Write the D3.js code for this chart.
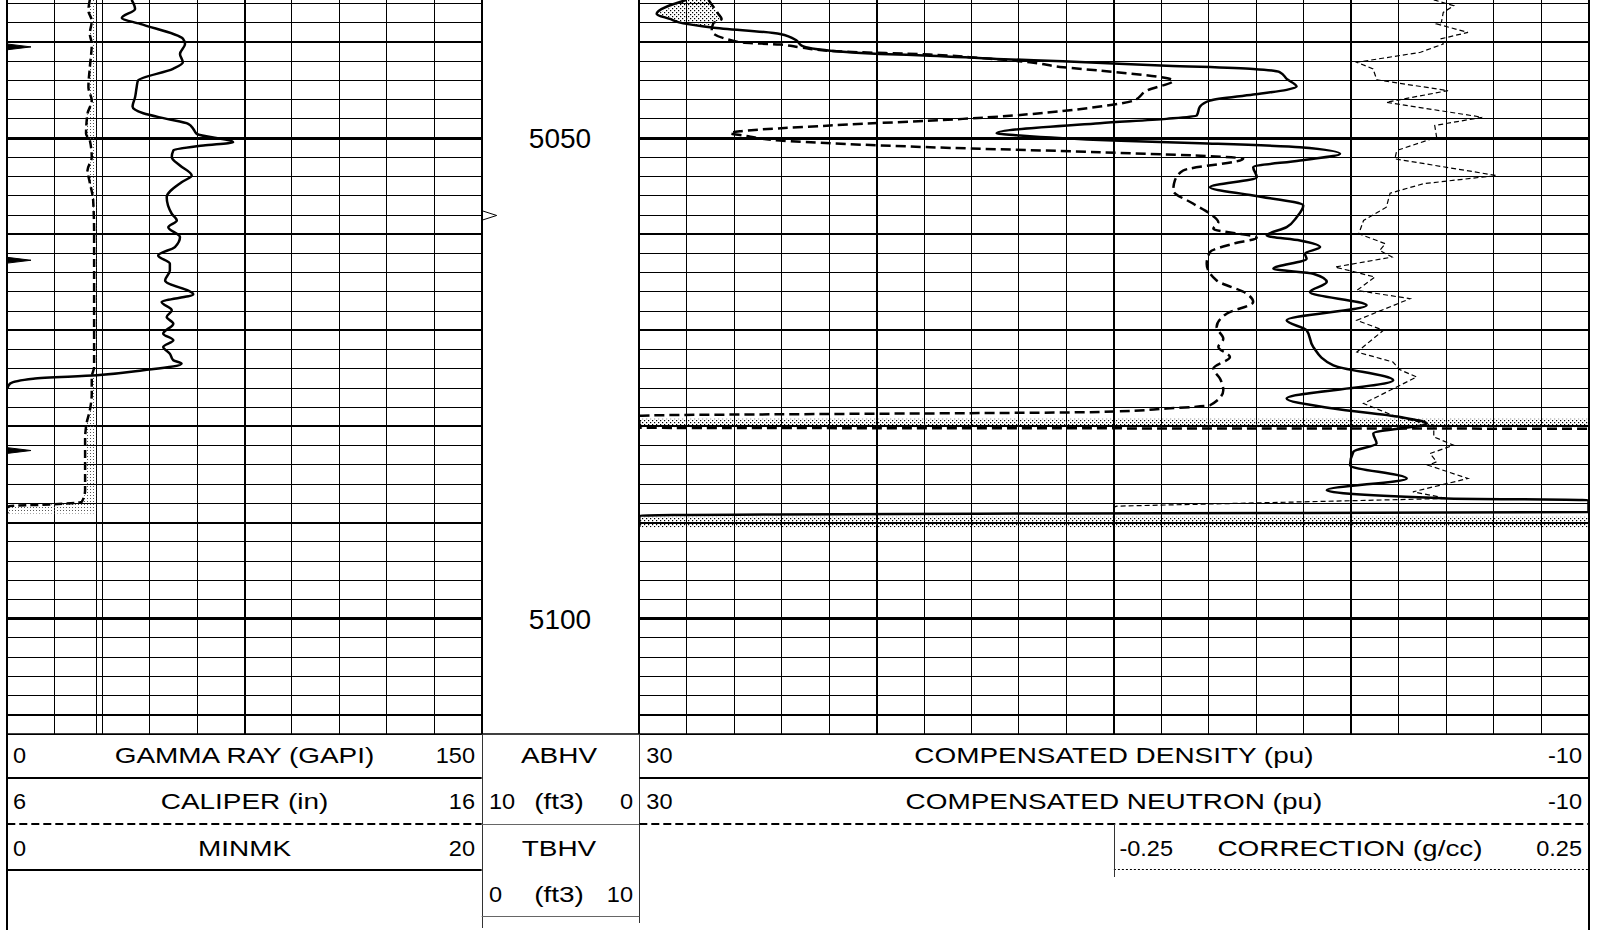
<!DOCTYPE html>
<html><head><meta charset="utf-8">
<script src="https://cdn.jsdelivr.net/npm/d3@7"></script>
<style>
body{margin:0;background:#fff}
svg{display:block}
text{font-family:"Liberation Sans",Arial,sans-serif;fill:#000}
</style>
</head><body>
<svg id="chart" width="1601" height="930"></svg>
<script>
// ---------------- DATA ----------------
const gammaScale = [0, 150];
const caliperScale = [6, 16];
const minmkScale = [0, 20];
const porosityScale = [30, -10];
const correctionScale = [-0.25, 0.25];
const bitSize = 7.875;
const depthLabels = [5050, 5100];
const volumeTicks = [5058.04];
const gasShadeRange = [5035.6, 5038.6];
const stippleBands = [[5079.2, 5080.1], [5089.4, 5090.5]];

// [depth ft, value]
const gammaRay = [[5035.6,39.3],[5036.55,40.4],[5037.49,36.2],[5038.11,42.0],[5039.67,55.6],[5040.19,56.2],[5041.23,54.6],[5042.10,55.5],[5042.79,52.4],[5044.01,41.3],[5044.70,40.9],[5045.74,40.4],[5046.71,39.6],[5047.41,43.0],[5047.99,50.4],[5048.51,57.2],[5049.03,58.8],[5049.55,59.9],[5050.42,71.4],[5050.76,62.0],[5051.28,52.5],[5051.98,52.0],[5052.84,54.6],[5053.88,58.3],[5054.58,55.1],[5056.13,50.4],[5057.86,52.0],[5058.56,53.6],[5059.26,50.9],[5060.29,54.6],[5061.33,53.0],[5062.20,47.7],[5063.06,51.4],[5063.76,51.4],[5064.80,49.9],[5066.25,58.8],[5067.05,48.8],[5067.91,52.0],[5068.61,50.4],[5069.30,52.5],[5070.34,49.3],[5071.03,52.5],[5071.73,49.3],[5072.42,51.4],[5073.11,52.5],[5073.46,55.1],[5074.15,43.0],[5074.67,28.3],[5075.02,8.2],[5075.53,0.9],[5076.05,0]];

const caliper = [[5035.6,7.74],[5036.73,7.71],[5037.77,7.78],[5039.15,7.74],[5040.19,7.78],[5042.62,7.74],[5044.70,7.71],[5046.09,7.78],[5047.47,7.69],[5049.55,7.66],[5050.24,7.74],[5051.98,7.78],[5053.36,7.69],[5054.40,7.73],[5056.48,7.81],[5059.94,7.83],[5066.88,7.83],[5073.81,7.83],[5074.85,7.78],[5076.54,7.78],[5078.31,7.74],[5079.69,7.67],[5081.43,7.64],[5083.85,7.64],[5086.62,7.64],[5087.84,7.57],[5088.11,6.90],[5088.29,6.02],[5089.05,6.0]];

const minmk = [[5035.6,0],[5040.2,0],[5040.5,1.0],[5040.8,0],[5062.4,0],[5062.7,1.0],[5063.0,0],[5082.2,0],[5082.5,1.0],[5082.8,0],[5089.0,0]];

const densityPor = [[5035.6,28.0],[5037.07,29.27],[5037.59,28.71],[5038.05,28.15],[5038.47,26.95],[5039.15,24.07],[5039.85,23.37],[5040.37,23.16],[5040.89,21.96],[5041.23,19.86],[5041.41,17.75],[5041.75,14.94],[5042.0,12.15],[5042.45,7.78],[5042.79,4.13],[5043.14,3.0],[5043.83,2.72],[5044.63,2.30],[5044.97,2.72],[5045.46,4.13],[5046.09,5.95],[5046.71,6.37],[5047.64,6.51],[5047.99,7.78],[5048.44,10.59],[5049.48,14.94],[5049.72,13.96],[5050.24,10.03],[5050.52,6.37],[5050.94,2.16],[5051.63,0.47],[5052.32,2.16],[5053.02,4.13],[5054.06,3.98],[5055.10,5.95],[5055.96,4.13],[5057.0,2.02],[5058.22,2.30],[5059.26,2.72],[5060.12,3.56],[5060.64,2.16],[5061.33,1.31],[5062.02,1.95],[5062.54,1.88],[5063.58,3.28],[5064.1,1.60],[5064.97,1.03],[5066.01,1.74],[5067.39,-0.65],[5068.95,2.72],[5069.99,1.88],[5071.73,1.60],[5073.63,0.75],[5075.19,-1.77],[5077.09,2.72],[5078.13,0.75],[5079.01,-2.06],[5079.69,-3.18],[5080.73,-0.93],[5081.77,-1.07],[5082.64,-0.09],[5084.03,0.05],[5085.41,-2.34],[5086.63,1.03],[5087.49,-4.02],[5087.67,-11],[5088.91,-11],[5089.05,12.15],[5089.28,31],[5090.47,31]];

const neutronPor = [[5035.6,27.09],[5037.07,26.67],[5037.59,26.53],[5038.05,26.88],[5038.81,26.95],[5040.02,25.76],[5040.26,24.07],[5040.54,23.23],[5040.96,21.68],[5041.30,17.75],[5041.65,15.64],[5042.10,13.54],[5042.62,12.13],[5042.97,10.59],[5044.01,7.5],[5045.05,8.62],[5046.09,9.18],[5046.71,10.59],[5047.99,16.36],[5048.68,21.96],[5049.28,25.76],[5049.48,26.18],[5049.72,25.62],[5050.24,24.07],[5050.94,17.75],[5051.46,10.59],[5052.15,4.55],[5053.36,7.08],[5054.40,7.43],[5055.44,7.50],[5056.82,6.65],[5057.86,5.95],[5058.74,5.60],[5059.42,5.81],[5060.36,3.98],[5060.98,4.97],[5061.85,5.95],[5063.06,6.09],[5064.80,5.67],[5066.18,4.40],[5067.05,4.13],[5068.26,5.25],[5069.65,5.67],[5070.86,5.39],[5071.73,5.60],[5072.77,5.11],[5073.98,5.81],[5075.02,5.53],[5076.23,5.39],[5077.79,5.95],[5078.13,7.78],[5078.49,10.59],[5078.88,31],[5080.13,31],[5080.23,-11]];

const correction = [[5035.6,0.087],[5036.21,0.108],[5036.91,0.097],[5037.95,0.095],[5038.11,0.090],[5038.99,0.123],[5039.67,0.094],[5040.19,0.097],[5041.06,0.073],[5042.10,0.006],[5042.79,0.023],[5043.93,0.027],[5045.05,0.102],[5046.26,0.037],[5047.82,0.138],[5048.68,0.088],[5049.9,0.090],[5051.28,0.048],[5052.15,0.046],[5053.88,0.153],[5054.74,0.076],[5055.72,0.041],[5057.18,0.037],[5058.56,0.013],[5059.94,0.008],[5060.98,0.036],[5061.68,0.030],[5062.37,0.043],[5063.41,-0.017],[5064.45,0.025],[5065.84,0.006],[5066.70,0.062],[5068.95,0.006],[5069.99,0.034],[5072.25,0.006],[5073.29,0.044],[5074.08,0.051],[5074.85,0.069],[5077.61,0.013],[5079.01,0.048],[5079.87,0.087],[5081.08,0.087],[5081.95,0.108],[5082.81,0.083],[5083.68,0.090],[5084.03,0.081],[5085.41,0.123],[5086.80,0.065],[5087.49,0.101],[5088.29,-0.247],[5088.39,-0.26]];

const leftHeader = [
  {left: String(gammaScale[0]), title: "GAMMA RAY (GAPI)", right: String(gammaScale[1])},
  {left: String(caliperScale[0]), title: "CALIPER (in)", right: String(caliperScale[1])},
  {left: String(minmkScale[0]), title: "MINMK", right: String(minmkScale[1])}
];
const depthHeader = [
  {title: "ABHV"},
  {left: "10", title: "(ft3)", right: "0"},
  {title: "TBHV"},
  {left: "0", title: "(ft3)", right: "10"}
];
const rightHeader = [
  {left: String(porosityScale[0]), title: "COMPENSATED DENSITY (pu)", right: String(porosityScale[1])},
  {left: String(porosityScale[0]), title: "COMPENSATED NEUTRON (pu)", right: String(porosityScale[1])},
  {left: String(correctionScale[0]), title: "CORRECTION (g/cc)", right: String(correctionScale[1])}
];

// ---------------- LAYOUT ----------------
const svg = d3.select("#chart");
const TB = 734;                 // track bottom
const depthTop = 5035.62, pxPerFt = 9.61;
const L0 = 7.3, L1 = 481.7, R0 = 639.3, R1 = 1588.5;
const y = d3.scaleLinear().domain([depthTop, depthTop + TB / pxPerFt]).range([0, TB]);
const xGR = d3.scaleLinear().domain(gammaScale).range([L0, L1]).clamp(true);
const xCal = d3.scaleLinear().domain(caliperScale).range([L0, L1]).clamp(true);
const xMin = d3.scaleLinear().domain(minmkScale).range([L0, L1]).clamp(true);
const xPor = d3.scaleLinear().domain(porosityScale).range([R0, R1]).clamp(true);
const xCor = d3.scaleLinear().domain(correctionScale).range([xPor(10), R1]).clamp(true);

svg.append("rect").attr("width", 1601).attr("height", 930).attr("fill", "#fff");

const defs = svg.append("defs");
const p1 = defs.append("pattern").attr("id", "stip").attr("width", 4).attr("height", 4).attr("patternUnits", "userSpaceOnUse");
p1.append("rect").attr("x", 0).attr("y", 0).attr("width", 1.2).attr("height", 1.2).attr("fill", "#000");
p1.append("rect").attr("x", 2).attr("y", 2).attr("width", 1.2).attr("height", 1.2).attr("fill", "#000");
const p2 = defs.append("pattern").attr("id", "stip2").attr("width", 3).attr("height", 3).attr("patternUnits", "userSpaceOnUse");
p2.append("rect").attr("width", 1).attr("height", 1).attr("fill", "#555");
defs.append("clipPath").attr("id", "clipL").append("rect").attr("x", L0).attr("y", 0).attr("width", L1 - L0).attr("height", TB);
defs.append("clipPath").attr("id", "clipR").append("rect").attr("x", R0).attr("y", 0).attr("width", R1 - R0).attr("height", TB);

// ---------------- GRID ----------------
const grid = svg.append("g");
const depthLines = d3.range(5036, 5113, 2);
function hLine(x0, x1, d) {
  const w = d % 50 === 0 ? 3 : (d % 10 === 0 ? 2 : 1);
  let yy = y(d);
  yy = w === 2 ? Math.round(yy) : Math.round(yy - 0.5) + 0.5;
  grid.append("line").attr("x1", x0).attr("x2", x1).attr("y1", yy).attr("y2", yy)
    .attr("stroke", "#000").attr("stroke-width", w);
}
depthLines.forEach(d => { hLine(L0, L1, d); hLine(R0, R1, d); });

d3.range(gammaScale[0], gammaScale[1] + 1, 15).forEach((v, i) => {
  const w = (i === 0 || i === 10) ? 2 : (i === 5 ? 2 : 1);
  const xx = w === 2 ? Math.round(xGR(v)) : Math.round(xGR(v) - 0.5) + 0.5;
  grid.append("line").attr("x1", xx).attr("x2", xx).attr("y1", 0).attr("y2", TB).attr("stroke", "#000").attr("stroke-width", w);
});
d3.range(0, 21).forEach(i => {
  const v = porosityScale[0] - i * 2;
  const w = (i % 5 === 0) ? 2 : 1;
  const xx = w === 2 ? Math.round(xPor(v)) : Math.round(xPor(v) - 0.5) + 0.5;
  grid.append("line").attr("x1", xx).attr("x2", xx).attr("y1", 0).attr("y2", TB).attr("stroke", "#000").attr("stroke-width", w);
});
grid.append("line").attr("x1", L0).attr("x2", R1).attr("y1", TB).attr("y2", TB).attr("stroke", "#000").attr("stroke-width", 1.5);
grid.append("line").attr("x1", Math.round(xCal(bitSize)) + 0.5).attr("x2", Math.round(xCal(bitSize)) + 0.5)
  .attr("y1", 0).attr("y2", TB).attr("stroke", "#000").attr("stroke-width", 1);

// ---------------- LEFT TRACK ----------------
const gl = svg.append("g").attr("clip-path", "url(#clipL)");
gl.append("path").datum(caliper)
  .attr("d", d3.area().curve(d3.curveMonotoneY).y(d => y(d[0])).x0(d => xCal(d[1])).x1(xCal(bitSize)))
  .attr("fill", "url(#stip2)");
gl.append("path").datum(minmk)
  .attr("d", d3.area().y(d => y(d[0])).x0(xMin(0)).x1(d => xMin(d[1])))
  .attr("fill", "#000").attr("stroke", "#000").attr("stroke-width", 1);
gl.append("path").datum(caliper)
  .attr("d", d3.line().curve(d3.curveMonotoneY).x(d => xCal(d[1])).y(d => y(d[0])))
  .attr("fill", "none").attr("stroke", "#000").attr("stroke-width", 2.5).attr("stroke-dasharray", "8,4");
gl.append("path").datum(gammaRay)
  .attr("d", d3.line().curve(d3.curveMonotoneY).x(d => xGR(d[1])).y(d => y(d[0])))
  .attr("fill", "none").attr("stroke", "#000").attr("stroke-width", 2.5);

// ---------------- RIGHT TRACK ----------------
function interp(series, d) {
  const i = d3.bisector(p => p[0]).left(series, d);
  if (i <= 0) return series[0][1];
  if (i >= series.length) return series[series.length - 1][1];
  const a = series[i - 1], b = series[i];
  return a[1] + (b[1] - a[1]) * (d - a[0]) / (b[0] - a[0]);
}
const gr = svg.append("g").attr("clip-path", "url(#clipR)");
const gasSamples = d3.range(gasShadeRange[0], gasShadeRange[1] + 0.001, 0.05);
gr.append("path").datum(gasSamples)
  .attr("d", d3.area().y(d => y(d))
    .x0(d => xPor(interp(densityPor, d)))
    .x1(d => Math.max(xPor(interp(densityPor, d)), xPor(interp(neutronPor, d)))))
  .attr("fill", "url(#stip)");
stippleBands.forEach(b => {
  gr.append("rect").attr("x", xPor(porosityScale[0])).attr("width", xPor(porosityScale[1]) - xPor(porosityScale[0]))
    .attr("y", y(b[0])).attr("height", y(b[1]) - y(b[0])).attr("fill", "url(#stip)");
});
gr.append("path").datum(correction)
  .attr("d", d3.line().x(d => xCor(d[1])).y(d => y(d[0])))
  .attr("fill", "none").attr("stroke", "#000").attr("stroke-width", 1.2).attr("stroke-dasharray", "5,3");
gr.append("path").datum(neutronPor)
  .attr("d", d3.line().curve(d3.curveMonotoneY).x(d => xPor(d[1])).y(d => y(d[0])))
  .attr("fill", "none").attr("stroke", "#000").attr("stroke-width", 2.5).attr("stroke-dasharray", "10,5");
gr.append("path").datum(densityPor)
  .attr("d", d3.line().curve(d3.curveMonotoneY).x(d => xPor(d[1])).y(d => y(d[0])))
  .attr("fill", "none").attr("stroke", "#000").attr("stroke-width", 2.5);

// ---------------- DEPTH TRACK ----------------
const gd = svg.append("g");
depthLabels.forEach(d => {
  gd.append("text").attr("x", 560).attr("y", y(d) + 10).attr("text-anchor", "middle")
    .attr("font-size", 28).text(d);
});
volumeTicks.forEach(d => {
  const yy = y(d);
  gd.append("path").attr("d", `M${L1 + 1},${yy - 4.5}L${L1 + 15},${yy}L${L1 + 1},${yy + 4.5}`)
    .attr("fill", "#fff").attr("stroke", "#000").attr("stroke-width", 1);
});

// ---------------- BORDERS ----------------
const gb = svg.append("g");
[[L0, 0, 930], [L1, 0, TB], [R0, 0, TB], [R1, 0, 930]].forEach(([x, a, b]) => {
  gb.append("line").attr("x1", Math.round(x)).attr("x2", Math.round(x)).attr("y1", a).attr("y2", b)
    .attr("stroke", "#000").attr("stroke-width", 2);
});
[[L1, 928], [R0, 923]].forEach(([x, b]) => {
  gb.append("line").attr("x1", Math.round(x) + 0.5).attr("x2", Math.round(x) + 0.5).attr("y1", TB).attr("y2", b)
    .attr("stroke", "#333").attr("stroke-width", 1);
});

// ---------------- HEADER ----------------
const gh = svg.append("g");
const FS = 22, TSX = 1.27, NSX = 1.07;
function txt(x, yb, s, anchor, sx) {
  gh.append("text").attr("transform", `translate(${x},${yb}) scale(${sx},1)`)
    .attr("text-anchor", anchor).attr("font-size", FS).text(s);
}
const rowBase = [763, 809, 856, 902];
leftHeader.forEach((r, i) => {
  txt(13, rowBase[i], r.left, "start", NSX);
  txt((L0 + L1) / 2, rowBase[i], r.title, "middle", TSX);
  txt(475, rowBase[i], r.right, "end", NSX);
});
depthHeader.forEach((r, i) => {
  if (r.left) txt(489, rowBase[i], r.left, "start", NSX);
  txt(559, rowBase[i], r.title, "middle", TSX);
  if (r.right) txt(633, rowBase[i], r.right, "end", NSX);
});
rightHeader.forEach((r, i) => {
  const isCorr = i === 2;
  txt(isCorr ? xCor(correctionScale[0]) + 5.5 : R0 + 7, rowBase[i], r.left, "start", NSX);
  txt(isCorr ? 1350 : (R0 + R1) / 2, rowBase[i], r.title, "middle", TSX);
  txt(1582, rowBase[i], r.right, "end", NSX);
});
function hl(x0, x1, yy, w, dash, col) {
  gh.append("line").attr("x1", x0).attr("x2", x1).attr("y1", yy).attr("y2", yy)
    .attr("stroke", col || "#000").attr("stroke-width", w).attr("stroke-dasharray", dash || null);
}
hl(L0, L1, 778, 2); hl(R0, R1, 778, 2);
hl(L0, L1, 824, 2, "8,4"); hl(R0, R1, 824, 2, "8,4");
hl(L0, L1, 870, 2);
hl(L1, R0, 824.5, 1, null, "#666");
hl(L1, R0, 916.5, 1, null, "#666");
hl(xCor(correctionScale[0]), R1, 869.5, 1, "2,2");
gh.append("line").attr("x1", Math.round(xCor(correctionScale[0])) + 0.5).attr("x2", Math.round(xCor(correctionScale[0])) + 0.5)
  .attr("y1", 824).attr("y2", 877).attr("stroke", "#333").attr("stroke-width", 1);
</script>
</body></html>
